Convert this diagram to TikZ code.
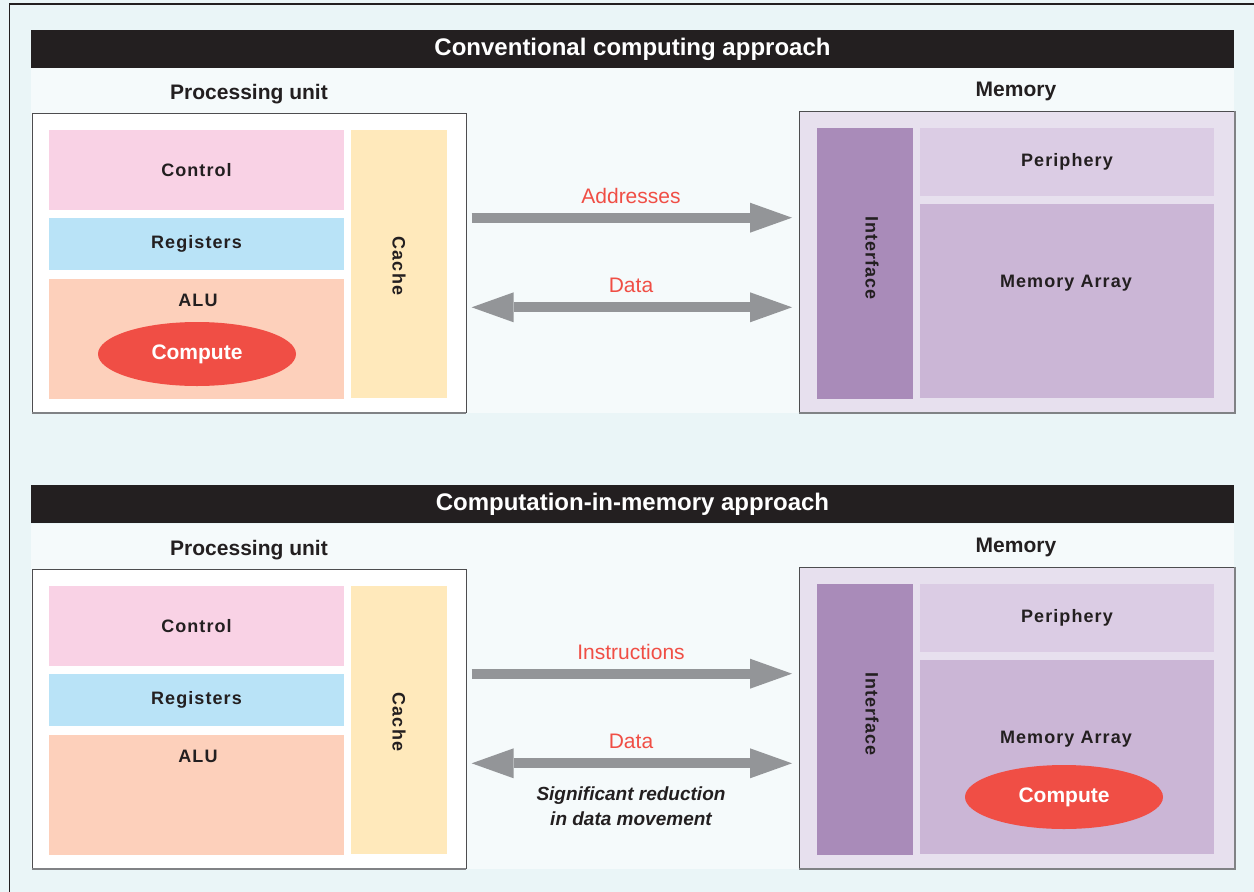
\documentclass[tikz,border=0pt]{standalone}
\usepackage{fontspec}
\setmainfont{Liberation Sans}
\newfontfamily\lsp[LetterSpace=6]{Liberation Sans}
\usetikzlibrary{arrows.meta,shapes.geometric}
\definecolor{bgout}{HTML}{EAF5F7}
\definecolor{bgpanel}{HTML}{F5FAFB}
\definecolor{barblack}{HTML}{231F20}
\definecolor{txt}{HTML}{231F20}
\definecolor{cctrl}{HTML}{F9D2E5}
\definecolor{creg}{HTML}{B9E3F7}
\definecolor{calu}{HTML}{FDD0BB}
\definecolor{ccache}{HTML}{FFE9BB}
\definecolor{cred}{HTML}{F04E45}
\definecolor{cmem}{HTML}{E7E0EE}
\definecolor{cintf}{HTML}{A98BB9}
\definecolor{cperi}{HTML}{DBCCE4}
\definecolor{carr}{HTML}{CBB6D6}
\definecolor{agray}{HTML}{939598}
\definecolor{bord}{HTML}{4D4D4F}
\definecolor{shad}{HTML}{808285}
\begin{document}
\begin{tikzpicture}[x=1pt,y=-1pt,
  wh/.style 2 args={minimum width=#1pt, minimum height=#2pt},
  blk/.style={rectangle, inner sep=0pt, draw=none},
  panelbox/.style={blk, fill=bgpanel},
  barbox/.style={blk, fill=barblack, text=white, font={\bfseries\fontsize{24}{28}\selectfont}},
  heading/.style={text=txt, inner sep=0pt, font={\bfseries\fontsize{21}{25}\selectfont}},
  outerbox/.style={rectangle, inner sep=0pt, draw=bord, line width=0.9pt},
  part/.style={blk, text=txt, font={\lsp\bfseries\fontsize{18}{22}\selectfont}},
  partlabel/.style={text=txt, inner sep=0pt, font={\lsp\bfseries\fontsize{18}{22}\selectfont}},
  computebox/.style={ellipse, fill=cred, draw=none, inner sep=0pt, text=white, wh={198}{64}, font={\bfseries\fontsize{21}{25}\selectfont}},
  redlabel/.style={text=cred, inner sep=0pt, font={\fontsize{21}{25}\selectfont}},
  notelabel/.style={text=txt, inner sep=0pt, align=center, font={\bfseries\itshape\fontsize{19}{25}\selectfont}},
  bigarrow/.style={draw=agray, line width=10pt, -{Triangle[length=42pt,width=30pt,line width=0pt]}},
  bigdarrow/.style={draw=agray, line width=10pt, {Triangle[length=42pt,width=30pt,line width=0pt]}-{Triangle[length=42pt,width=30pt,line width=0pt]}},
  shadowline/.style={draw=shad, line width=1.6pt}
]
\useasboundingbox (0,0) rectangle (1254,892);
\fill[bgout] (0,0) rectangle (1254,892);
\draw[barblack, line width=1.3pt] (9.5,892) -- (9.5,4) -- (1254,4);

% ================= Section 1 =================
\node[panelbox, wh={1203}{345}] (panel1) at (632.5,240.5) {};
\node[barbox, wh={1203}{38}] (bar1) at (632.5,49) {Conventional computing approach};
\node[heading] (puh1) at (249,94) {Processing unit};
\node[heading] (memh1) at (1016,91) {Memory};

\node[outerbox, fill=white, wh={434}{299}] (pu1) at (249,262.5) {};
\draw[shadowline] ([yshift=-0.8pt]pu1.south west) -- ([yshift=-0.8pt]pu1.south east);
\node[part, fill=cctrl, wh={295}{80}] (ctrl1) at (196.5,170) {Control};
\node[part, fill=creg, wh={295}{52}] (reg1) at (196.5,244) {Registers};
\node[part, fill=calu, wh={295}{120}] (alu1) at (196.5,339) {};
\node[partlabel] (alul1) at (198,300) {ALU};
\node[computebox] (cmp1) at (197,354) {Compute};
\node[part, fill=ccache, wh={96}{268}] (cache1) at (399,264) {};
\node[partlabel, rotate=-90] (cachel1) at (399,266) {Cache};

\node[outerbox, fill=cmem, wh={435}{301}] (mem1) at (1016.5,261.5) {};
\draw[shadowline] ([yshift=-0.8pt]mem1.south west) -- ([xshift=0.8pt,yshift=-0.8pt]mem1.south east) -- ([xshift=0.8pt]mem1.north east);
\node[part, fill=cintf, wh={96}{271}] (intf1) at (865,263.5) {};
\node[partlabel, rotate=-90] (intfl1) at (872,258) {Interface};
\node[part, fill=cperi, wh={294}{68}] (peri1) at (1067,162) {Periphery};
\node[part, fill=carr, wh={294}{194}] (arr1) at (1067,301) {};
\node[partlabel] (arrl1) at (1066,283) {Memory Array};

\coordinate (addrS) at (471.7,217.7);
\coordinate (addrE) at (792,217.7);
\coordinate (dataS1) at (471.7,307.3);
\coordinate (dataE1) at (792,307.3);
\draw[bigarrow] (addrS) -- (addrE);
\draw[bigdarrow] (dataS1) -- (dataE1);
\node[redlabel] (addrl) at (631,196) {Addresses};
\node[redlabel] (datal1) at (631,285) {Data};

% ================= Section 2 =================
\node[panelbox, wh={1203}{345}] (panel2) at (632.5,696.5) {};
\node[barbox, wh={1203}{38}] (bar2) at (632.5,504) {Computation-in-memory approach};
\node[heading] (puh2) at (249,550) {Processing unit};
\node[heading] (memh2) at (1016,547) {Memory};

\node[outerbox, fill=white, wh={434}{299}] (pu2) at (249,718.5) {};
\draw[shadowline] ([yshift=-0.8pt]pu2.south west) -- ([yshift=-0.8pt]pu2.south east);
\node[part, fill=cctrl, wh={295}{80}] (ctrl2) at (196.5,626) {Control};
\node[part, fill=creg, wh={295}{52}] (reg2) at (196.5,700) {Registers};
\node[part, fill=calu, wh={295}{120}] (alu2) at (196.5,795) {};
\node[partlabel] (alul2) at (198,756) {ALU};
\node[part, fill=ccache, wh={96}{268}] (cache2) at (399,720) {};
\node[partlabel, rotate=-90] (cachel2) at (399,722) {Cache};

\node[outerbox, fill=cmem, wh={435}{301}] (mem2) at (1016.5,717.5) {};
\draw[shadowline] ([yshift=-0.8pt]mem2.south west) -- ([xshift=0.8pt,yshift=-0.8pt]mem2.south east) -- ([xshift=0.8pt]mem2.north east);
\node[part, fill=cintf, wh={96}{271}] (intf2) at (865,719.5) {};
\node[partlabel, rotate=-90] (intfl2) at (872,714) {Interface};
\node[part, fill=cperi, wh={294}{68}] (peri2) at (1067,618) {Periphery};
\node[part, fill=carr, wh={294}{194}] (arr2) at (1067,757) {};
\node[partlabel] (arrl2) at (1066,739) {Memory Array};
\node[computebox] (cmp2) at (1064,797) {Compute};

\coordinate (instS) at (471.7,673.7);
\coordinate (instE) at (792,673.7);
\coordinate (dataS2) at (471.7,763.3);
\coordinate (dataE2) at (792,763.3);
\draw[bigarrow] (instS) -- (instE);
\draw[bigdarrow] (dataS2) -- (dataE2);
\node[redlabel] (instl) at (631,652) {Instructions};
\node[redlabel] (datal2) at (631,741) {Data};
\node[notelabel] (note) at (631,806) {Significant reduction\\in data movement};
\end{tikzpicture}
\end{document}
